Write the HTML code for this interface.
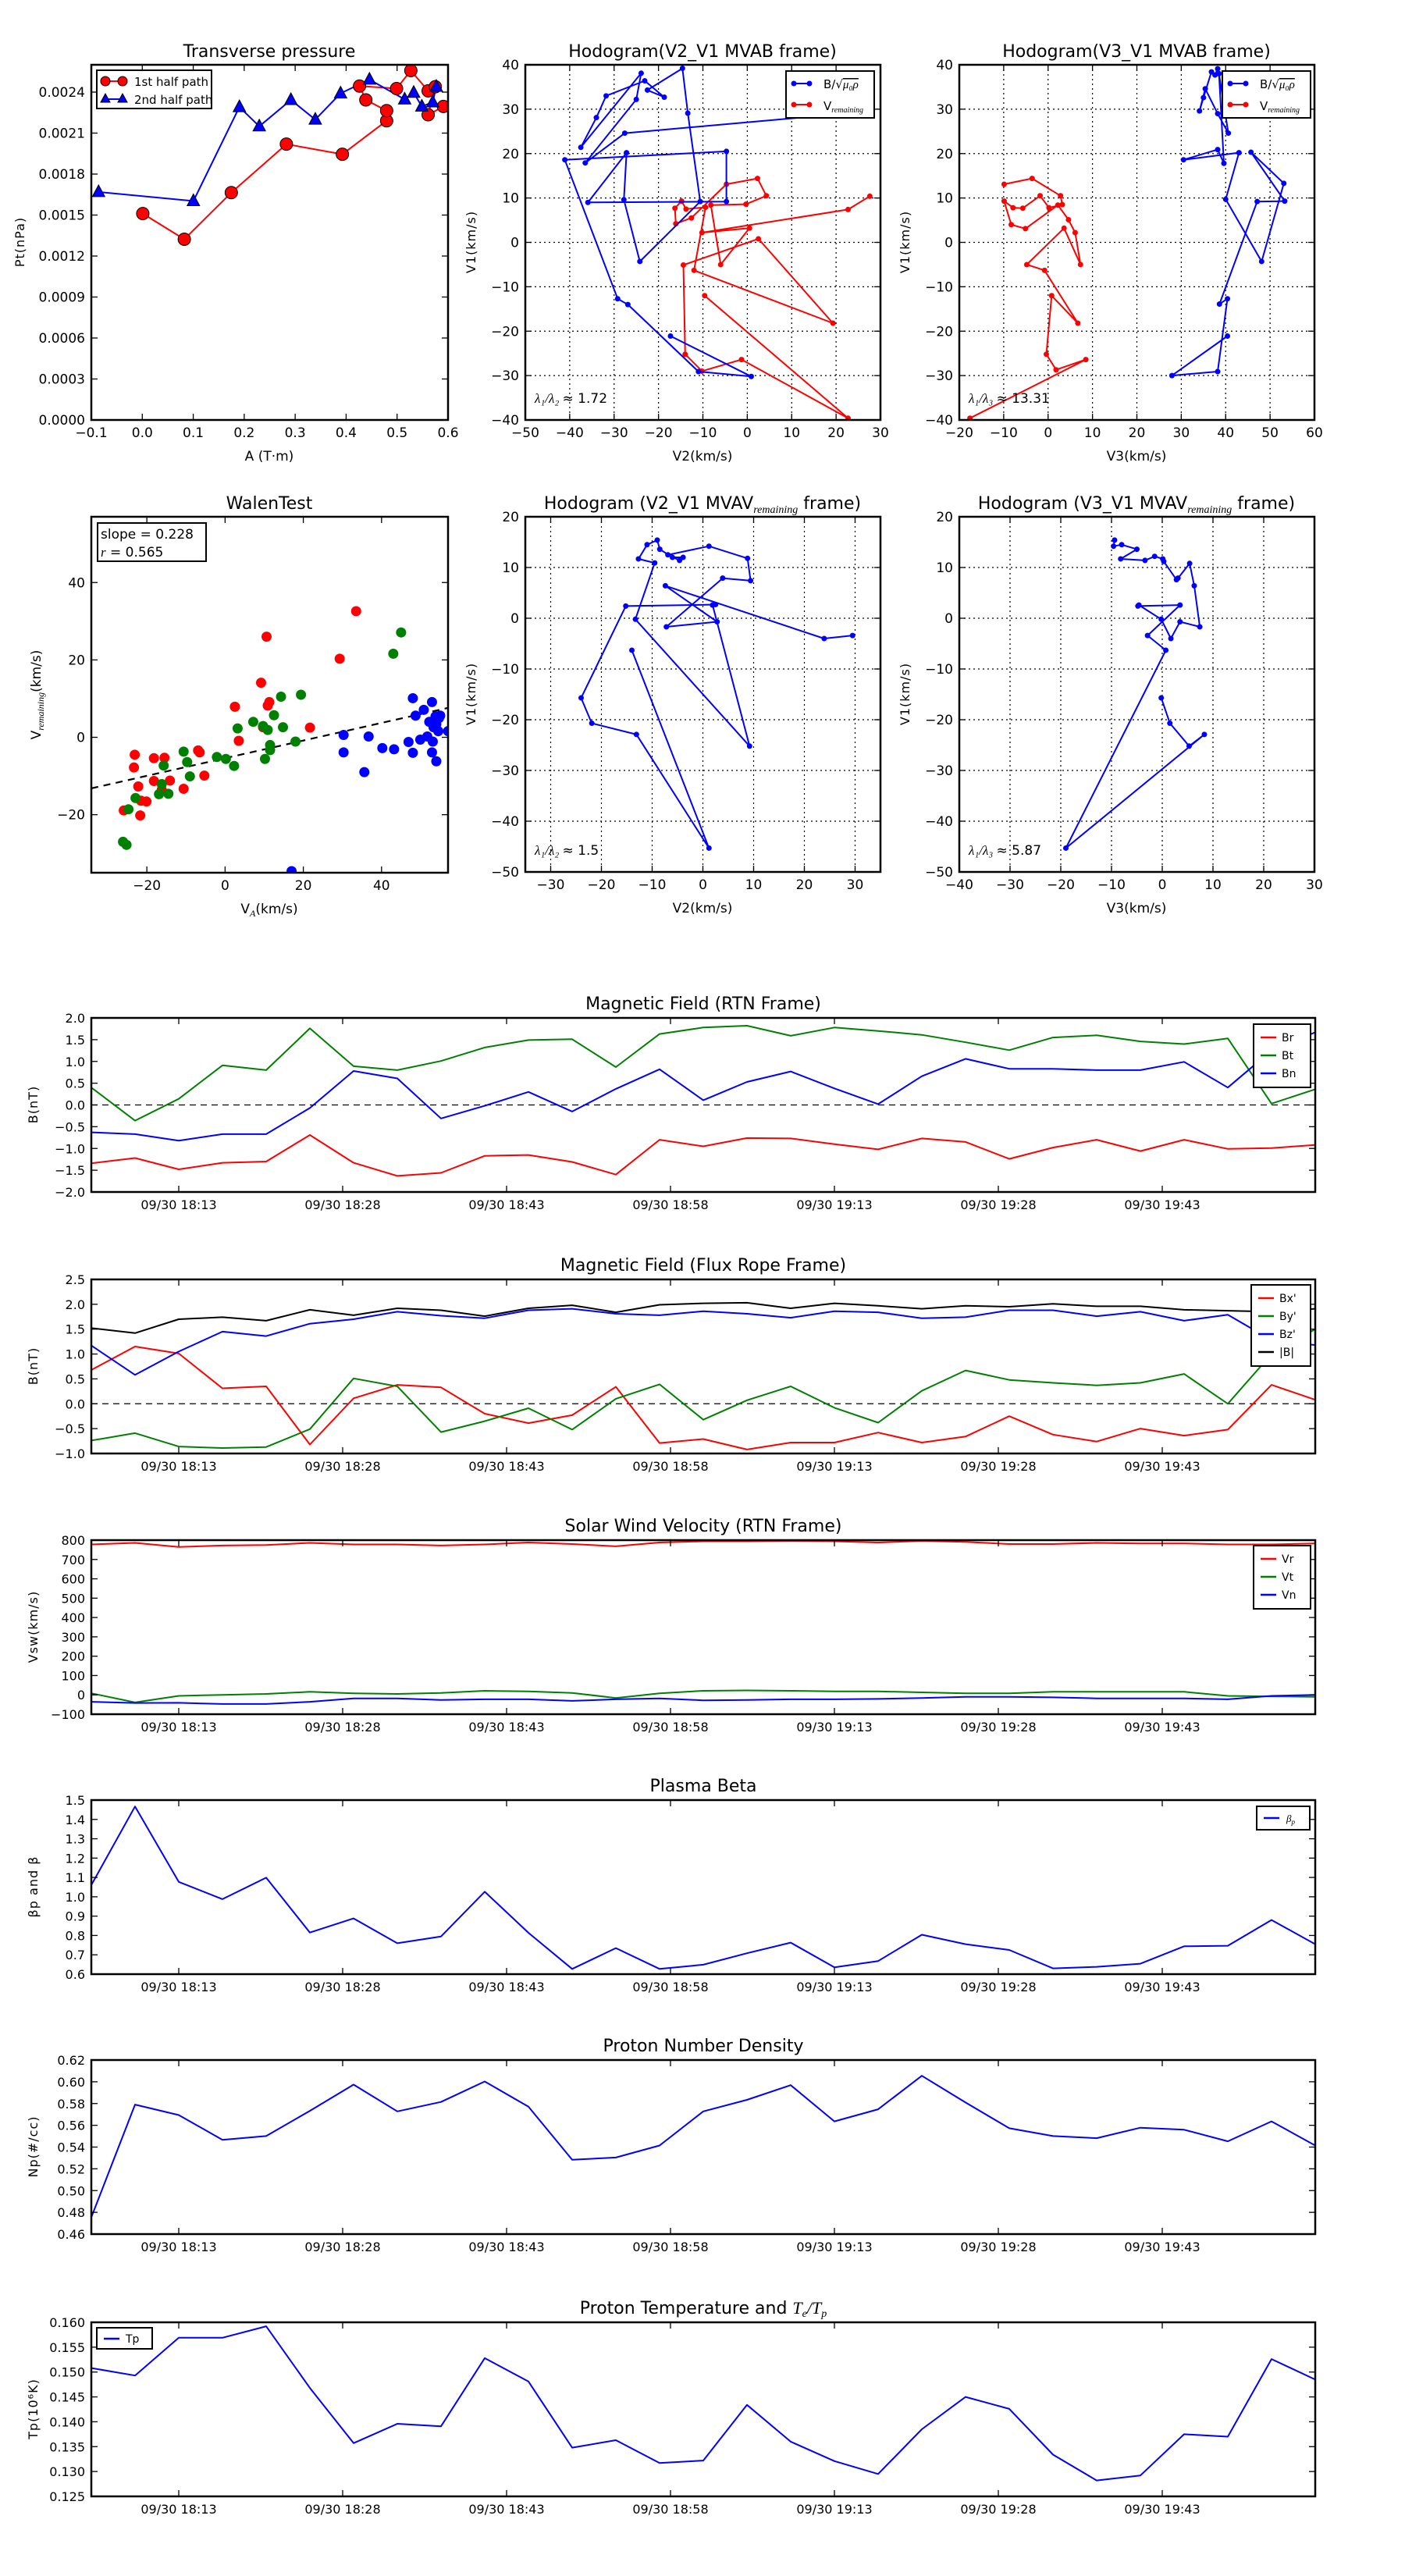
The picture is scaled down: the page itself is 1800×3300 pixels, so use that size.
<!DOCTYPE html>
<html><head><meta charset="utf-8">
<style>
html,body{margin:0;padding:0;background:#fff;}
svg{display:block;font-family:"DejaVu Sans","Liberation Sans",sans-serif;}
</style></head>
<body>
<svg id="fig" xmlns="http://www.w3.org/2000/svg" width="1800" height="3300" viewBox="0 0 1800 3300">
<rect x="0" y="0" width="1800" height="3300" fill="#fff"/>
</svg>
<script>
// ---------- data ----------
// Transverse pressure
const tpRedA=[0.001,0.0825,0.1747,0.2828,0.3927,0.4795,0.4795,0.4387,0.4263,0.499,0.527,0.561,0.575,0.561,0.591];
const tpRedP=[0.001511,0.001323,0.001664,0.002019,0.001945,0.002190,0.002264,0.002343,0.002444,0.002426,0.002558,0.002409,0.002439,0.002234,0.002295];
const tpBlueA=[-0.0858,0.1003,0.1906,0.2296,0.2916,0.3395,0.3891,0.4458,0.5149,0.5326,0.5486,0.5699,0.5770];
const tpBlueP=[0.001669,0.001603,0.002291,0.002150,0.002343,0.002199,0.002391,0.002492,0.002347,0.002396,0.002295,0.002326,0.002440];
// Hodogram V2_V1 MVAB
const h1BlueX=[22,-27.6,-36.5,-25.0,-23.9,-37.5,-34.0,-31.8,-23.1,-18.7,-22.5,-14.6,-13.4,-10.6,-24.2,-27.8,-27.2,-35.9,-4.7,-4.7,-41.1,-29.2,-26.9,-11.0,0.9,-17.3];
const h1BlueY=[29,24.6,17.9,32.2,38.1,21.4,28.1,33.0,36.4,32.7,34.3,39.2,29.1,9.2,-4.3,9.6,20.2,9.0,9.2,20.5,18.6,-12.7,-14.0,-29.1,-30.2,-21.1];
const h1RedX=[27.6,22.7,-10.2,0.5,-6.0,-8.2,-0.3,4.3,2.3,-4.7,-12.6,-16.1,-16.3,-14.8,-13.8,-9.4,-12.0,19.3,2.5,-14.4,-14.0,-10.2,-1.3,22.7,-9.6];
const h1RedY=[10.4,7.4,2.2,3.2,-5.0,8.4,8.6,10.5,14.4,13.1,5.5,4.2,7.7,9.3,7.5,7.9,-6.3,-18.2,0.8,-5.1,-25.2,-29.0,-26.4,-39.6,-12.0];
// Hodogram V3_V1 MVAB
const h2BlueX=[38.2,37.6,36.8,35.0,34.1,35.4,38.2,40.6,38.5,39.6,38.2,30.5,43.0,40.0,48.1,53.1,45.7,53.3,47.1,38.6,40.4,38.2,27.9,40.4];
const h2BlueY=[39.1,37.7,38.4,32.6,29.6,34.6,29.0,24.6,38.0,17.8,20.9,18.6,20.2,9.7,-4.3,13.3,20.3,9.3,9.2,-13.9,-12.7,-29.1,-30.0,-21.1];
const h2RedX=[-9.9,-3.6,2.8,3.2,0.2,-1.8,-5.7,-7.9,-9.9,-8.3,-5.1,2.2,4.6,6.1,7.3,3.6,-4.8,-0.8,6.7,0.8,-0.4,1.8,8.5,-17.6];
const h2RedY=[13.1,14.4,10.5,8.5,7.8,10.5,7.7,7.8,9.3,4.0,3.1,8.4,5.1,2.2,-5.0,3.2,-5.0,-6.3,-18.2,-12.0,-25.2,-28.7,-26.4,-39.6];
// Walen test
const wRedX=[-23.1,-23.3,-18.2,-15.5,-22.2,-21.5,-20.1,-18.2,-14.1,-16.2,-10.6,-21.7,-25.9,-6.5,-6.9,-5.3,2.5,3.5,9.2,10.6,10.9,11.3,9.7,21.7,29.3,33.5];
const wRedY=[-4.5,-7.8,-5.4,-5.3,-12.7,-16.4,-16.6,-11.3,-11.2,-13.6,-13.3,-20.2,-18.9,-3.9,-3.4,-9.9,7.9,-0.9,14.1,26.0,8.2,9.1,2.6,2.5,20.3,32.6];
const wGreenX=[-26.1,-25.2,-24.7,-22.9,-16.2,-16.9,-14.5,-15.7,-10.6,-9.7,-9.0,-2.1,0.2,2.3,3.2,7.2,9.7,10.9,11.5,10.2,12.5,11.5,14.3,14.8,18.0,19.4,43.0,45.0];
const wGreenY=[-27.0,-27.8,-18.6,-15.7,-12.1,-14.7,-14.6,-7.3,-3.7,-6.4,-10.1,-5.1,-5.6,-7.4,2.3,4.0,2.9,1.9,-3.3,-5.6,5.7,-2.0,10.5,2.6,-1.1,11.0,21.6,27.1];
const wBlueX=[17,30.3,30.3,36.7,35.6,40.2,43.2,46.9,48.0,48.0,48.7,49.9,50.8,51.7,52.2,53.1,53.3,52.9,53.8,54.0,54.5,54.7,52.9,54.0,55.0,57.0];
const wBlueY=[-34.6,0.6,-3.9,0.2,-9.0,-2.8,-3.1,-1.2,-4.0,10.1,5.6,-0.6,7.1,0.2,4.0,-1.1,2.6,9.1,5.4,3.4,1.6,5.0,-3.9,-6.2,5.6,1.6];
const walenSlope=[0.228];
const walenIntercept=[-5.4];
// Hodogram V2_V1 MVAV
const h3X=[-14.0,1.2,-13.1,-21.9,-24.0,-15.2,2.5,1.9,9.2,-13.3,-9.5,-12.7,-11.0,-9.0,-8.5,-6.0,-3.9,-4.6,-6.9,1.2,8.8,9.4,3.9,-7.2,2.8,-7.4,23.9,29.5];
const h3Y=[-6.3,-45.3,-22.9,-20.7,-15.7,2.4,2.7,2.6,-25.2,-0.2,10.9,11.7,14.5,15.4,13.6,12.0,12.0,11.4,12.5,14.2,11.8,7.4,7.9,-1.7,-0.7,6.4,-4.0,-3.4];
// Hodogram V3_V1 MVAV
const h4X=[-9.4,-9.6,-8.0,-5.0,-8.2,-3.4,-1.5,0.1,0.3,2.8,3.1,5.4,6.3,7.4,3.5,1.7,-0.2,-4.6,-4.8,3.5,-2.9,0.7,-19.0,8.3,5.3,1.5,-0.2];
const h4Y=[15.4,14.2,14.5,13.6,11.7,11.4,12.2,11.7,11.2,7.6,7.9,10.8,6.4,-1.7,-0.7,-4.0,-0.2,2.6,2.4,2.6,-3.4,-6.3,-45.3,-22.9,-25.2,-20.7,-15.7];
// Time series (minutes after 18:05, every 4 min)
const tMin=[0,4,8,12,16,20,24,28,32,36,40,44,48,52,56,60,64,68,72,76,80,84,88,92,96,100,104,108,112];
const timeTicks=[8,23,38,53,68,83,98];
const timeTickLabels=["09/30 18:13","09/30 18:28","09/30 18:43","09/30 18:58","09/30 19:13","09/30 19:28","09/30 19:43"];
const Br=[-1.34,-1.22,-1.48,-1.33,-1.30,-0.69,-1.33,-1.63,-1.56,-1.17,-1.15,-1.31,-1.60,-0.80,-0.95,-0.76,-0.77,-0.90,-1.02,-0.77,-0.85,-1.24,-0.98,-0.80,-1.06,-0.80,-1.01,-0.99,-0.92];
const Bt=[0.40,-0.36,0.14,0.91,0.80,1.76,0.89,0.80,1.01,1.32,1.49,1.51,0.87,1.63,1.78,1.82,1.59,1.78,1.70,1.61,1.44,1.26,1.55,1.60,1.46,1.40,1.53,0.03,0.36];
const Bn=[-0.63,-0.67,-0.82,-0.67,-0.67,-0.07,0.78,0.61,-0.31,-0.02,0.30,-0.15,0.37,0.82,0.11,0.53,0.77,0.38,0.02,0.66,1.06,0.83,0.83,0.80,0.80,0.99,0.40,1.25,1.67];
const Bx=[0.68,1.15,1.01,0.31,0.35,-0.82,0.11,0.38,0.33,-0.20,-0.39,-0.23,0.34,-0.79,-0.71,-0.92,-0.78,-0.78,-0.58,-0.78,-0.66,-0.25,-0.62,-0.76,-0.50,-0.64,-0.52,0.38,0.08];
const By=[-0.74,-0.59,-0.86,-0.89,-0.87,-0.51,0.51,0.35,-0.57,-0.35,-0.09,-0.52,0.10,0.39,-0.32,0.07,0.35,-0.08,-0.38,0.26,0.67,0.48,0.42,0.37,0.42,0.60,0.0,1.0,1.50];
const Bz=[1.17,0.58,1.05,1.45,1.36,1.61,1.70,1.85,1.77,1.72,1.88,1.91,1.81,1.78,1.86,1.81,1.73,1.86,1.84,1.72,1.74,1.88,1.88,1.76,1.85,1.67,1.79,1.28,1.18];
const Bmag=[1.52,1.42,1.70,1.74,1.67,1.89,1.78,1.92,1.88,1.76,1.92,1.98,1.84,1.99,2.02,2.03,1.92,2.02,1.97,1.91,1.97,1.95,2.01,1.96,1.96,1.89,1.87,1.85,1.91];
const Vr=[778,786,765,772,775,786,778,778,772,778,788,780,768,788,794,794,796,794,788,796,791,780,780,786,783,783,778,778,783];
const Vt=[8,-39,-5,0,5,16,8,5,10,21,18,10,-16,8,21,23,21,18,18,13,8,8,16,16,16,16,-5,-8,-10];
const Vn=[-36,-42,-41,-47,-47,-36,-18,-18,-26,-23,-23,-31,-23,-18,-28,-26,-23,-23,-21,-16,-10,-10,-13,-18,-18,-18,-23,-5,0];
const betaP=[1.061,1.467,1.077,0.988,1.099,0.815,0.888,0.760,0.795,1.026,0.814,0.627,0.735,0.627,0.649,0.708,0.763,0.635,0.668,0.804,0.755,0.725,0.630,0.638,0.654,0.744,0.747,0.880,0.755];
const Np=[0.4754,0.5790,0.5694,0.5467,0.5501,0.5733,0.5974,0.5728,0.5815,0.6003,0.5771,0.5284,0.5304,0.5414,0.5728,0.5834,0.5969,0.5636,0.5747,0.6055,0.5810,0.5573,0.5501,0.5482,0.5578,0.5559,0.5453,0.5636,0.5414];
const Tp=[0.1508,0.1493,0.1569,0.1569,0.1592,0.1468,0.1357,0.1396,0.1391,0.1528,0.1481,0.1348,0.1363,0.1317,0.1322,0.1434,0.1360,0.1321,0.1295,0.1385,0.1450,0.1426,0.1334,0.1282,0.1292,0.1375,0.1370,0.1526,0.1485];

// ---------- helpers ----------
const NS='http://www.w3.org/2000/svg';
const svg=document.getElementById('fig');
let clipId=0;
function mk(tag,attrs,parent){const e=document.createElementNS(NS,tag);for(const k in attrs)e.setAttribute(k,attrs[k]);(parent||svg).appendChild(e);return e;}
function nm(e,name){


return e;}
function txt(x,y,s,size,anchor,name,parent,extra){const t=mk('text',Object.assign({x:x,y:y,'font-size':size,'text-anchor':anchor||'middle',fill:'#000'},extra||{}),parent);t.textContent=s;nm(t,name);return t;}
function span(t,s,attrs){const e=mk('tspan',attrs||{},t);e.textContent=s;return e;}
function fmtNeg(s){return s.replace('-','\u2212');}

function axes(name,x0,y0,w,h,xd,yd){
  const g=mk('g',{});nm(g,name);
  const sx=v=>x0+(v-xd[0])/(xd[1]-xd[0])*w;
  const sy=v=>y0+h-(v-yd[0])/(yd[1]-yd[0])*h;
  clipId++;
  const cp=mk('clipPath',{id:'c'+clipId},g);
  mk('rect',{x:x0,y:y0,width:w,height:h},cp);
  const plot=mk('g',{'clip-path':'url(#c'+clipId+')'},g);
  nm(plot,name+'-plot-area');
  return {g,plot,sx,sy,x0,y0,w,h,xd,yd};
}
function grid(ax,xt,yt){
  xt.forEach(v=>{const l=mk('line',{x1:ax.sx(v),x2:ax.sx(v),y1:ax.y0,y2:ax.y0+ax.h,stroke:'#000','stroke-width':1.2,'stroke-dasharray':'2,4'},ax.plot);nm(l,'x-grid-line');});
  yt.forEach(v=>{const l=mk('line',{y1:ax.sy(v),y2:ax.sy(v),x1:ax.x0,x2:ax.x0+ax.w,stroke:'#000','stroke-width':1.2,'stroke-dasharray':'2,4'},ax.plot);nm(l,'y-grid-line');});
}
function frame(ax,xt,xl,yt,yl,fs){
  fs=fs||17;
  xt.forEach((v,i)=>{const X=ax.sx(v);
    const a=mk('line',{x1:X,x2:X,y1:ax.y0+ax.h,y2:ax.y0+ax.h-8,stroke:'#000','stroke-width':1.3},ax.g);nm(a,'x-tick');
    const b=mk('line',{x1:X,x2:X,y1:ax.y0,y2:ax.y0+8,stroke:'#000','stroke-width':1.3},ax.g);nm(b,'x-tick');
    txt(X,ax.y0+ax.h+22,xl[i],fs,'middle','x-tick-label',ax.g);});
  yt.forEach((v,i)=>{const Y=ax.sy(v);
    const a=mk('line',{y1:Y,y2:Y,x1:ax.x0,x2:ax.x0+8,stroke:'#000','stroke-width':1.3},ax.g);nm(a,'y-tick');
    const b=mk('line',{y1:Y,y2:Y,x1:ax.x0+ax.w,x2:ax.x0+ax.w-8,stroke:'#000','stroke-width':1.3},ax.g);nm(b,'y-tick');
    txt(ax.x0-8,Y+6,yl[i],fs,'end','y-tick-label',ax.g);});
  const r=mk('rect',{x:ax.x0,y:ax.y0,width:ax.w,height:ax.h,fill:'none',stroke:'#000','stroke-width':2.5},ax.g);nm(r,'axes-frame');
}
function line(ax,xs,ys,color,name,dots,r){
  const pts=xs.map((x,i)=>ax.sx(x).toFixed(1)+','+ax.sy(ys[i]).toFixed(1)).join(' ');
  const p=mk('polyline',{points:pts,fill:'none',stroke:color,'stroke-width':2,'stroke-linejoin':'round'},ax.plot);nm(p,name);
  if(dots){xs.forEach((x,i)=>{const c=mk('circle',{cx:ax.sx(x),cy:ax.sy(ys[i]),r:r||3.5,fill:color},ax.plot);nm(c,name+'-point');});}
}
function ticksRange(a,b,s){const o=[];for(let v=a;v<=b+1e-9;v+=s)o.push(+v.toFixed(6));return o;}
function rotLabel(x,y,s,name,size){const t=txt(x,y,s,size||16,'middle',name,svg,{transform:'rotate(-90 '+x+' '+y+')','letter-spacing':'1'});return t;}
const serifIt={'font-style':'italic','font-family':'Liberation Serif, serif'};

// ---------- Transverse pressure ----------
{
const ax=axes('transverse-pressure-chart',117,83,457,455,[-0.1,0.6],[0,0.0026]);
txt(345,73,'Transverse pressure',22,'middle','chart-title');
line(ax,tpRedA,tpRedP,'#f00','first-half-path');
line(ax,tpBlueA,tpBlueP,'#00f','second-half-path');
tpRedA.forEach((a,i)=>{const c=mk('circle',{cx:ax.sx(a),cy:ax.sy(tpRedP[i]),r:8,fill:'#f00',stroke:'#000','stroke-width':1},ax.plot);nm(c,'first-half-marker');});
tpBlueA.forEach((a,i)=>{const X=ax.sx(a),Y=ax.sy(tpBlueP[i]);const t=mk('polygon',{points:(X)+','+(Y-9)+' '+(X-8)+','+(Y+6)+' '+(X+8)+','+(Y+6),fill:'#00f',stroke:'#000','stroke-width':1},ax.plot);nm(t,'second-half-marker');});
const xt=ticksRange(-0.1,0.6,0.1);
const yt=ticksRange(0,0.0024,0.0003);
frame(ax,xt,xt.map(v=>fmtNeg(v.toFixed(1))),yt,yt.map(v=>v.toFixed(4)),17);
txt(345,590,'A (T·m)',17,'middle','x-axis-title');
rotLabel(31,310,'Pt(nPa)','y-axis-title');
const lg=mk('g',{});nm(lg,'legend');
mk('rect',{x:124,y:90,width:147,height:49,fill:'#fff',stroke:'#000','stroke-width':2},lg);
mk('line',{x1:135,x2:157,y1:104,y2:104,stroke:'#f00','stroke-width':2},lg);
mk('circle',{cx:135,cy:104,r:6,fill:'#f00',stroke:'#000'},lg);mk('circle',{cx:157,cy:104,r:6,fill:'#f00',stroke:'#000'},lg);
mk('line',{x1:135,x2:157,y1:127,y2:127,stroke:'#00f','stroke-width':2},lg);
mk('polygon',{points:'135,120 129,131 141,131',fill:'#00f',stroke:'#000'},lg);mk('polygon',{points:'157,120 151,131 163,131',fill:'#00f',stroke:'#000'},lg);
txt(172,110,'1st half path',15,'start','legend-label',lg);
txt(172,133,'2nd half path',15,'start','legend-label',lg);
}

// ---------- Hodogram legends ----------
function hodoLegend(x,y){
  const lg=mk('g',{});nm(lg,'legend');
  mk('rect',{x:x,y:y,width:113,height:60,fill:'#fff',stroke:'#000','stroke-width':2},lg);
  mk('line',{x1:x+10,x2:x+30,y1:y+16,y2:y+16,stroke:'#00f','stroke-width':2},lg);
  mk('circle',{cx:x+10,cy:y+16,r:3.5,fill:'#00f'},lg);mk('circle',{cx:x+30,cy:y+16,r:3.5,fill:'#00f'},lg);
  mk('line',{x1:x+10,x2:x+30,y1:y+43,y2:y+43,stroke:'#f00','stroke-width':2},lg);
  mk('circle',{cx:x+10,cy:y+43,r:3.5,fill:'#f00'},lg);mk('circle',{cx:x+30,cy:y+43,r:3.5,fill:'#f00'},lg);
  const t1=txt(x+48,y+22,'B/√',15,'start','legend-label',lg);
  span(t1,'μ₀ρ',Object.assign({'text-decoration':'overline'},serifIt));
  const t2=txt(x+48,y+50,'V',15,'start','legend-label',lg);
  span(t2,'remaining',Object.assign({'font-size':10,dy:3},serifIt));
}
function hodo(name,title,x0,y0,xd,yd,xt,yt,bx,by,rx,ry,xlab,lam,lamv,legX){
  const ax=axes(name,x0,y0,455,455,xd,yd);
  const tt=txt(x0+227,y0-10,title[0],22,'middle','chart-title');
  if(title.length>1){span(tt,title[1],Object.assign({'font-size':14,dy:5},serifIt));span(tt,title[2],{dy:-5});}
  grid(ax,xt,yt);
  if(rx)line(ax,rx,ry,'#f00','v-remaining-series',true);
  line(ax,bx,by,'#00f','b-alfven-series',true);
  frame(ax,xt,xt.map(v=>fmtNeg(String(v))),yt,yt.map(v=>fmtNeg(String(v))),17);
  txt(x0+227,y0+507,xlab,17,'middle','x-axis-title');
  rotLabel(x0-64,y0+227,'V1(km/s)','y-axis-title');
  const t=txt(x0+12,y0+433,'',17,'start','eigenvalue-ratio-label');
  span(t,'λ₁/λ'+lam+' ',serifIt);
  span(t,'≈ '+lamv,{});
  if(legX)hodoLegend(legX,91);
  return ax;
}
hodo('hodogram-v2-v1-mvab',['Hodogram(V2_V1 MVAB frame)'],673,83,[-50,30],[-40,40],ticksRange(-50,30,10),ticksRange(-40,40,10),h1BlueX,h1BlueY,h1RedX,h1RedY,'V2(km/s)','₂','1.72',1007);
hodo('hodogram-v3-v1-mvab',['Hodogram(V3_V1 MVAB frame)'],1229,83,[-20,60],[-40,40],ticksRange(-20,60,10),ticksRange(-40,40,10),h2BlueX,h2BlueY,h2RedX,h2RedY,'V3(km/s)','₃','13.31',1566);

// ---------- Walen test ----------
{
const ax=axes('walen-test-chart',117,662,457,456,[-34.2,57],[-35,57]);
txt(345,652,'WalenTest',22,'middle','chart-title');
const dl=mk('line',{x1:ax.sx(-34.2),y1:ax.sy(walenSlope[0]*-34.2+walenIntercept[0]),x2:ax.sx(57),y2:ax.sy(walenSlope[0]*57+walenIntercept[0]),stroke:'#000','stroke-width':2.2,'stroke-dasharray':'9,7'},ax.plot);nm(dl,'fit-line');
[[wRedX,wRedY,'#f00','red-point'],[wGreenX,wGreenY,'#008000','green-point'],[wBlueX,wBlueY,'#00f','blue-point']].forEach(s=>{
 s[0].forEach((x,i)=>{const c=mk('circle',{cx:ax.sx(x),cy:ax.sy(s[1][i]),r:6.5,fill:s[2]},ax.plot);nm(c,s[3]);});});
const xt=[-20,0,20,40],yt=[-20,0,20,40];
frame(ax,xt,xt.map(v=>fmtNeg(String(v))),yt,yt.map(v=>fmtNeg(String(v))),17);
const xl=txt(345,1170,'V',17,'middle','x-axis-title');span(xl,'A',Object.assign({'font-size':12,dy:4},serifIt));span(xl,'(km/s)',{dy:-4});
const yl=txt(52,890,'V',17,'middle','y-axis-title',svg,{transform:'rotate(-90 52 890)'});span(yl,'remaining',Object.assign({'font-size':12,dy:4},serifIt));span(yl,'(km/s)',{dy:-4});
const bx=mk('g',{});nm(bx,'fit-stats-box');
mk('rect',{x:125,y:670,width:139,height:49,fill:'#fff',stroke:'#000','stroke-width':2},bx);
txt(129,690,'slope = 0.228',17,'start','slope-label',bx);
const rt=txt(129,713,'',17,'start','r-label',bx);span(rt,'r',serifIt);span(rt,' = 0.565',{});
}
hodo('hodogram-v2-v1-mvav',['Hodogram (V2_V1 MVAV','remaining',' frame)'],673,662,[-35,35],[-50,20],ticksRange(-30,30,10),ticksRange(-50,20,10),h3X,h3Y,null,null,'V2(km/s)','₂','1.5',null);
hodo('hodogram-v3-v1-mvav',['Hodogram (V3_V1 MVAV','remaining',' frame)'],1229,662,[-40,30],[-50,20],ticksRange(-40,30,10),ticksRange(-50,20,10),h4X,h4Y,null,null,'V3(km/s)','₃','5.87',null);

// ---------- Time series ----------
function tsLegend(x,y,w,entries){
  const lg=mk('g',{});nm(lg,'legend');
  mk('rect',{x:x,y:y,width:w,height:entries.length*23+12,fill:'#fff',stroke:'#000','stroke-width':2},lg);
  entries.forEach((e,i)=>{const Y=y+17+i*23;
    mk('line',{x1:x+9,x2:x+29,y1:Y,y2:Y,stroke:e[1],'stroke-width':2.5},lg);
    txt(x+36,Y+5,e[0],14,'start','legend-label',lg);});
}
function ts(name,title,y0,yd,yt,ylab,series,zero,decimals){
  const ax=axes(name,117,y0,1568,223,[0,112],yd);
  ax.title=txt(901,y0-11,title,22,'middle','chart-title');
  if(zero){const z=mk('line',{x1:117,x2:1685,y1:ax.sy(0),y2:ax.sy(0),stroke:'#000','stroke-width':1.3,'stroke-dasharray':'8,6'},ax.plot);nm(z,'zero-line');}
  series.forEach(s=>line(ax,tMin,s[0],s[1],s[2]));
  frame(ax,timeTicks,timeTickLabels,yt,yt.map(v=>fmtNeg(v.toFixed(decimals))),16);
  ax.ylab=rotLabel(48,y0+111,ylab,'y-axis-title');
  return ax;
}
ts('magnetic-field-rtn-chart','Magnetic Field (RTN Frame)',1304,[-2,2],ticksRange(-2,2,0.5),'B(nT)',[[Br,'#f00','br-line'],[Bt,'#008000','bt-line'],[Bn,'#00f','bn-line']],true,1);
tsLegend(1606,1312,73,[['Br','#f00'],['Bt','#008000'],['Bn','#00f']]);
ts('magnetic-field-flux-rope-chart','Magnetic Field (Flux Rope Frame)',1639,[-1,2.5],ticksRange(-1,2.5,0.5),'B(nT)',[[Bx,'#f00','bx-line'],[By,'#008000','by-line'],[Bz,'#00f','bz-line'],[Bmag,'#000','bmag-line']],true,1);
tsLegend(1603,1646,76,[["Bx'",'#f00'],["By'",'#008000'],["Bz'",'#00f'],['|B|','#000']]);
ts('solar-wind-velocity-chart','Solar Wind Velocity (RTN Frame)',1973,[-100,800],ticksRange(-100,800,100),'Vsw(km/s)',[[Vr,'#f00','vr-line'],[Vt,'#008000','vt-line'],[Vn,'#00f','vn-line']],false,0);
tsLegend(1606,1980,73,[['Vr','#f00'],['Vt','#008000'],['Vn','#00f']]);
ts('plasma-beta-chart','Plasma Beta',2306,[0.6,1.5],ticksRange(0.6,1.5,0.1),'βp and β',[[betaP,'#00f','beta-p-line']],false,1);
{const lg=mk('g',{});nm(lg,'legend');mk('rect',{x:1610,y:2314,width:68,height:30,fill:'#fff',stroke:'#000','stroke-width':2},lg);mk('line',{x1:1619,x2:1639,y1:2329,y2:2329,stroke:'#00f','stroke-width':2.5},lg);const bl=txt(1648,2334,'β',13,'start','legend-label',lg,serifIt);span(bl,'p',{'font-size':9,dy:3});}
ts('proton-density-chart','Proton Number Density',2639,[0.46,0.62],ticksRange(0.46,0.62,0.02),'Np(#/cc)',[[Np,'#00f','np-line']],false,2);
{const ax=ts('proton-temperature-chart','Proton Temperature and ',2975,[0.125,0.160],ticksRange(0.125,0.160,0.005),'Tp(10⁶K)',[[Tp,'#00f','tp-line']],false,3);
 span(ax.title,'T',serifIt);span(ax.title,'e',Object.assign({'font-size':14,dy:4},serifIt));span(ax.title,'/T',Object.assign({dy:-4},serifIt));span(ax.title,'p',Object.assign({'font-size':14,dy:4},serifIt));}
{const lg=mk('g',{});nm(lg,'legend');mk('rect',{x:124,y:2982,width:71,height:27,fill:'#fff',stroke:'#000','stroke-width':2},lg);mk('line',{x1:133,x2:153,y1:2996,y2:2996,stroke:'#00f','stroke-width':2.5},lg);txt(161,3001,'Tp',14,'start','legend-label',lg);}
</script>
</body></html>
